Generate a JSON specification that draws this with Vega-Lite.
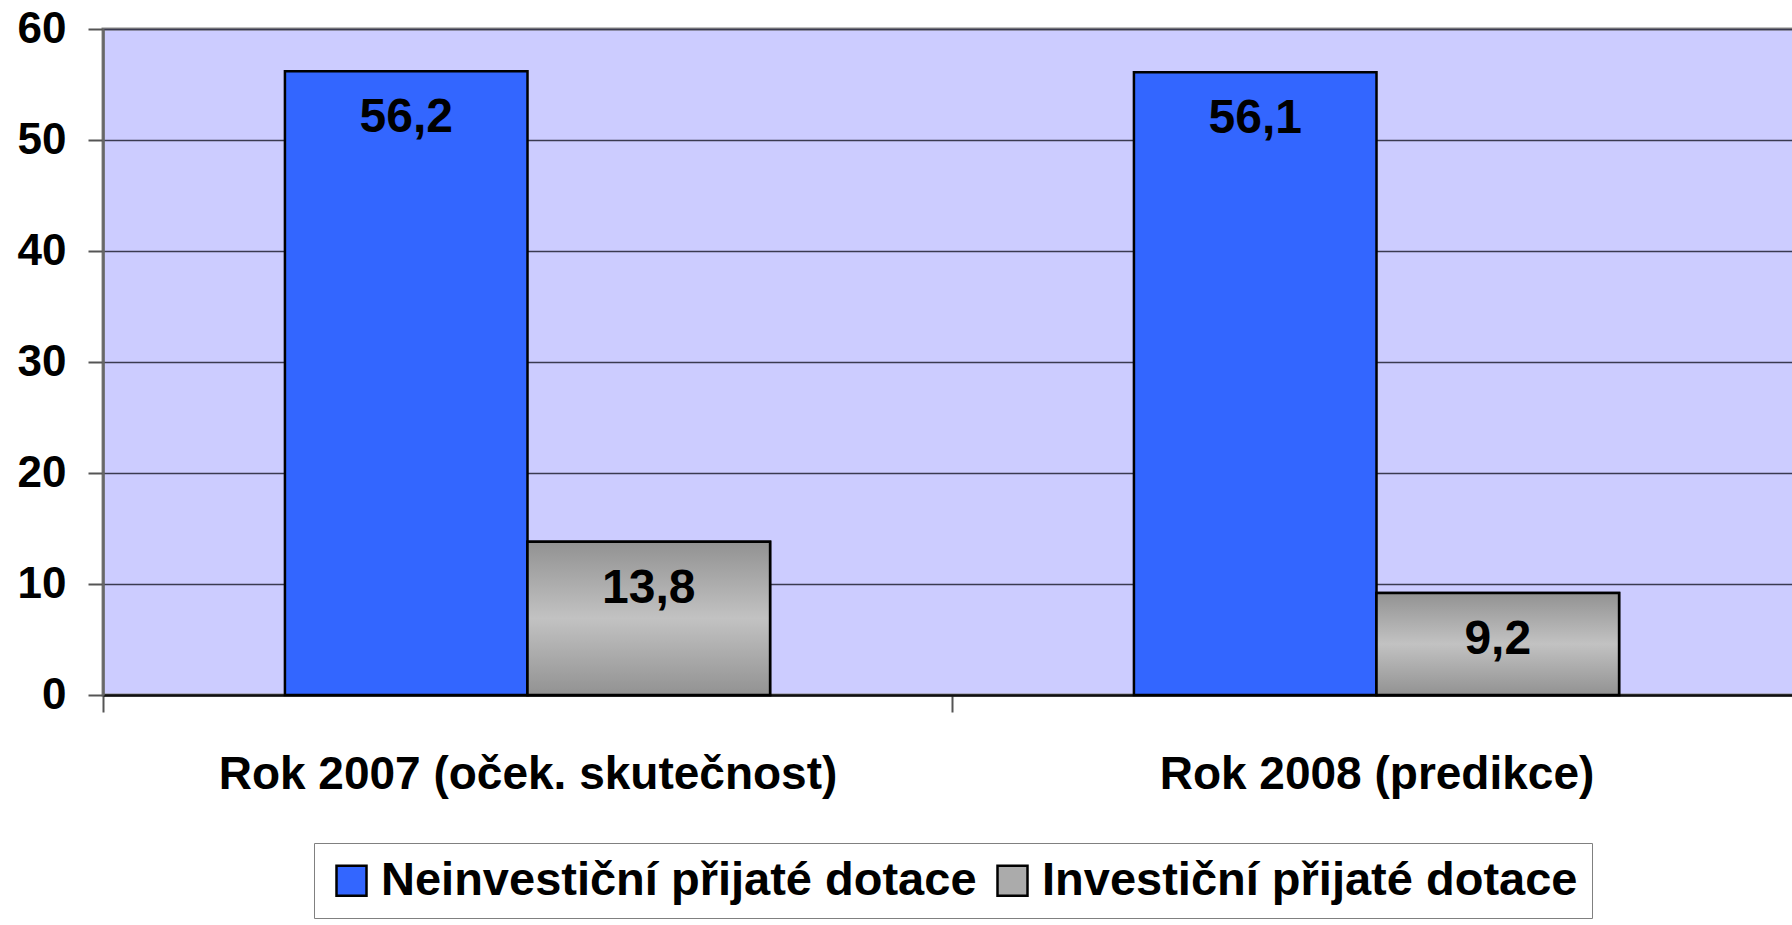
{
  "$schema": "https://vega.github.io/schema/vega-lite/v6.json",
  "autosize": {"type": "none"},
  "width": 1698,
  "height": 666,
  "padding": {"left": 103, "top": 29, "right": -9, "bottom": 230},
  "background": "white",
  "config": {
    "font": "Liberation Sans",
    "locale": {"number": {"decimal": ",", "thousands": " ", "grouping": [3], "currency": ["", " Kč"]}},
    "view": {"fill": "#CCCCFF", "stroke": "#888888", "strokeWidth": 3}
  },
  "data": {
    "values": [
      {"year": "Rok 2007 (oček. skutečnost)", "series": "Neinvestiční přijaté dotace", "value": 56.2},
      {"year": "Rok 2007 (oček. skutečnost)", "series": "Investiční přijaté dotace", "value": 13.8},
      {"year": "Rok 2008 (predikce)", "series": "Neinvestiční přijaté dotace", "value": 56.1},
      {"year": "Rok 2008 (predikce)", "series": "Investiční přijaté dotace", "value": 9.2}
    ]
  },
  "encoding": {
    "x": {
      "field": "year", "type": "nominal", "sort": null,
      "scale": {"paddingInner": 0, "paddingOuter": 0},
      "axis": {
        "title": null, "labelAngle": 0, "labelFontSize": 46, "labelFontWeight": "bold",
        "labelColor": "black", "labelPadding": 40, "labelLimit": 0,
        "tickOffset": -424.5, "labelOffset": 424.5, "tickSize": 17, "tickColor": "#555555", "tickWidth": 2,
        "domainColor": "#111111", "domainWidth": 2.5
      }
    },
    "xOffset": {
      "field": "series", "type": "nominal",
      "scale": {"domain": ["Neinvestiční přijaté dotace", "Investiční přijaté dotace"], "paddingOuter": 0.75, "paddingInner": 0}
    },
    "y": {
      "field": "value", "type": "quantitative",
      "scale": {"domain": [0, 60], "nice": false},
      "axis": {
        "title": null, "values": [0, 10, 20, 30, 40, 50, 60],
        "labelFontSize": 44, "labelFontWeight": "bold", "labelColor": "black",
        "labelPadding": 22, "tickSize": 15, "tickColor": "#555555", "tickWidth": 2,
        "domainColor": "#666666", "domainWidth": 2.5,
        "grid": true, "gridColor": "#3a3a50", "gridWidth": 1.5
      }
    }
  },
  "layer": [
    {
      "mark": {"type": "bar", "stroke": "black", "strokeWidth": 2.5},
      "encoding": {
        "color": {
          "field": "series", "type": "nominal",
          "scale": {"domain": ["Neinvestiční přijaté dotace", "Investiční přijaté dotace"], "range": ["#3366FF", "#ABABAB"]},
          "legend": {
            "title": null, "orient": "none", "direction": "horizontal",
            "legendX": 211, "legendY": 814,
            "labelFontSize": 47, "labelFontWeight": "bold", "labelColor": "black", "labelLimit": 0,
            "symbolType": "square", "symbolSize": 900, "symbolStrokeColor": "black", "symbolStrokeWidth": 2.5,
            "symbolOpacity": 1,
            "columnPadding": 12, "labelOffset": 6, "padding": 14,
            "strokeColor": "#808080", "fillColor": "white"
          }
        }
      }
    },
    {
      "transform": [{"filter": "datum.series === 'Investiční přijaté dotace'"}],
      "mark": {
        "type": "bar", "stroke": "black", "strokeWidth": 2.5,
        "fill": {
          "gradient": "linear", "x1": 0, "y1": 0, "x2": 0, "y2": 1,
          "stops": [
            {"offset": 0, "color": "#929292"},
            {"offset": 0.5, "color": "#C2C2C2"},
            {"offset": 1, "color": "#929292"}
          ]
        }
      }
    },
    {
      "mark": {"type": "text", "fontSize": 48, "fontWeight": "bold", "color": "black", "baseline": "middle", "dy": 47},
      "encoding": {
        "text": {"field": "value", "type": "quantitative", "format": ".1f"}
      }
    }
  ]
}
